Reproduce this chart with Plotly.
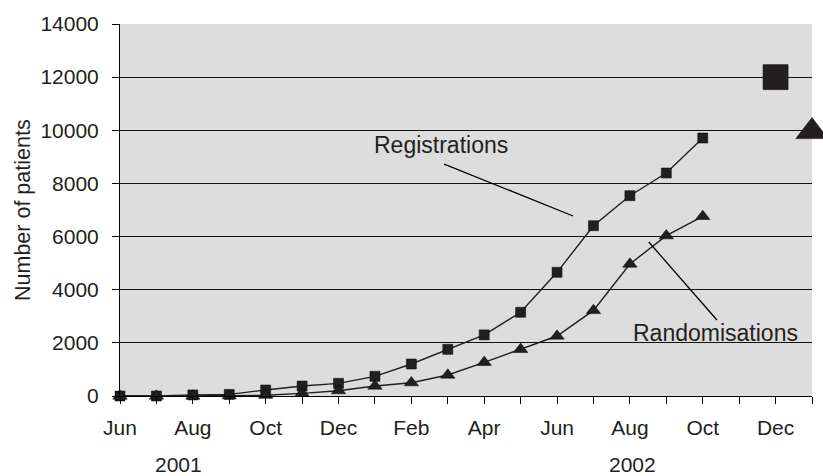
import plotly.graph_objects as go

months = ["Jun", "Jul", "Aug", "Sep", "Oct", "Nov", "Dec", "Jan", "Feb", "Mar",
          "Apr", "May", "Jun", "Jul", "Aug", "Sep", "Oct", "Nov", "Dec", "Jan"]
tick_labels = [m if i % 2 == 0 else "" for i, m in enumerate(months)]

registrations = [0, 0, 40, 60, 226, 376, 476, 740, 1204, 1756, 2300, 3150,
                 4655, 6409, 7538, 8392, 9709]
randomisations = [0, 0, 0, 10, 30, 100, 200, 376, 500, 790, 1267, 1756,
                  2258, 3220, 4967, 6033, 6760]

# stray oversized markers as they appear in the original figure
big_square = (18, 12000)
big_triangle = (19, 9950)

ink = "#231f20"
font_family = "Liberation Sans, Arial, sans-serif"

fig = go.Figure()
fig.add_trace(go.Scatter(
    x=list(range(len(registrations))), y=registrations, mode="lines+markers",
    line=dict(color=ink, width=1.4),
    marker=dict(symbol="square", size=10, color=ink, line=dict(color="#000", width=0.5)),
    showlegend=False, cliponaxis=False))
fig.add_trace(go.Scatter(
    x=list(range(len(randomisations))), y=randomisations, mode="lines+markers",
    line=dict(color=ink, width=1.4),
    marker=dict(symbol="triangle-up", size=12.5, color=ink, line=dict(color="#000", width=0.5)),
    showlegend=False, cliponaxis=False))
fig.add_trace(go.Scatter(
    x=[big_square[0]], y=[big_square[1]], mode="markers",
    marker=dict(symbol="square", size=25, color=ink, line=dict(color="#000", width=0.5)),
    showlegend=False, cliponaxis=False))
fig.add_trace(go.Scatter(
    x=[big_triangle[0]], y=[big_triangle[1]], mode="markers",
    marker=dict(symbol="triangle-up", size=28, color=ink, line=dict(color="#000", width=0.5)),
    showlegend=False, cliponaxis=False))

fig.update_layout(
    width=823, height=476,
    margin=dict(l=120, r=11, t=24, b=80),
    paper_bgcolor="white", plot_bgcolor="#dddddd",
    font=dict(family=font_family, size=21, color=ink),
    xaxis=dict(range=[0, 19], tickmode="array", tickvals=list(range(20)),
               ticktext=tick_labels, ticks="outside", ticklen=7, tickcolor="#000",
               showline=True, linecolor="#000", linewidth=1, showgrid=False,
               zeroline=False, ticklabelstandoff=6, tickangle=0),
    yaxis=dict(range=[0, 14000], dtick=2000, tickformat="d", ticks="outside", ticklen=7,
               tickcolor="#000", showline=True, linecolor="#000", linewidth=1,
               showgrid=True, gridcolor="#111", gridwidth=1, zeroline=False,
               ticklabelstandoff=9),
    shapes=[
        dict(type="line", xref="x", yref="y", x0=8.9, y0=8730, x1=12.44, y1=6774,
             line=dict(color="#000", width=1.3)),
        dict(type="line", xref="x", yref="y", x0=14.52, y0=5795, x1=16.39, y1=2860,
             line=dict(color="#000", width=1.3)),
    ],
    annotations=[
        dict(text="Registrations", x=8.81, y=9445, xref="x", yref="y", showarrow=False,
             font=dict(size=23)),
        dict(text="Randomisations", x=16.36, y=2371, xref="x", yref="y", showarrow=False,
             font=dict(size=23)),
        dict(text="2001", x=0, y=-0.185, xref="paper", yref="paper", showarrow=False,
             xanchor="center", yanchor="middle", xshift=178 - 120),
        dict(text="2002", x=0, y=-0.185, xref="paper", yref="paper", showarrow=False,
             xanchor="center", yanchor="middle", xshift=632 - 120),
        dict(text="Number of patients", x=0, y=0.5, xref="paper", yref="paper",
             showarrow=False, textangle=-90, xanchor="center", yanchor="middle",
             xshift=-97, font=dict(size=21.5)),
    ],
)

fig.write_html("out.html")
